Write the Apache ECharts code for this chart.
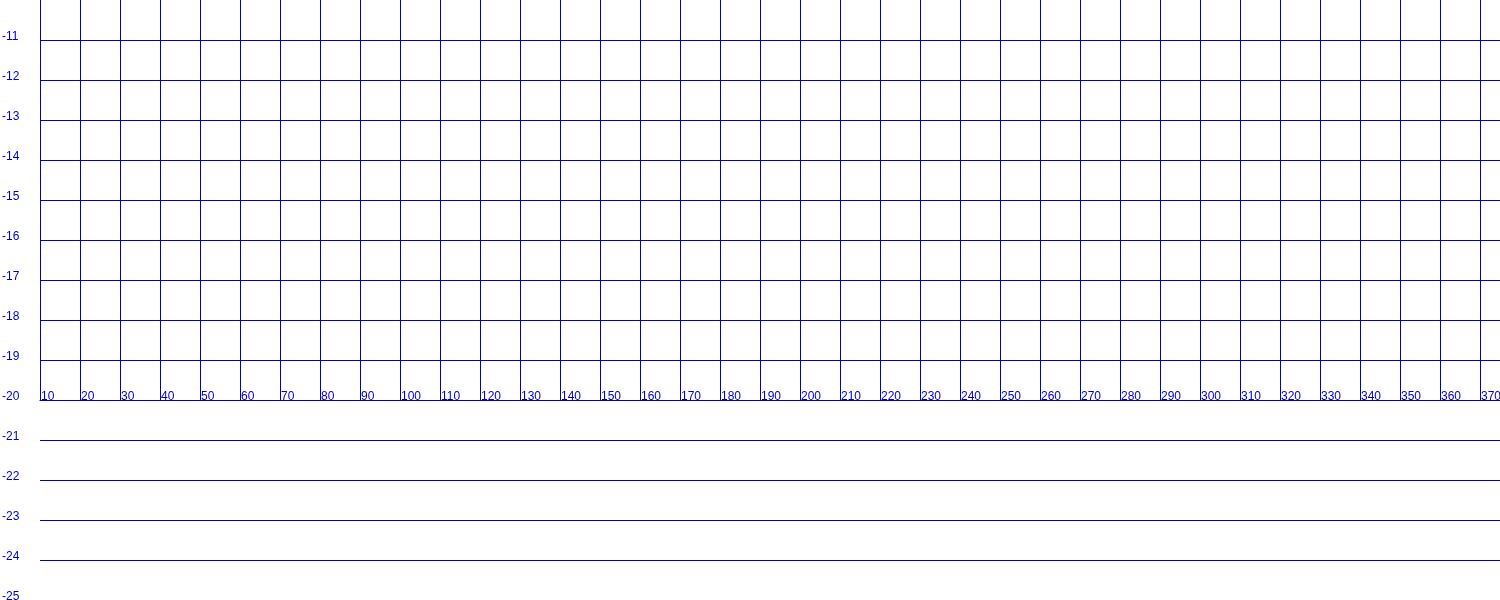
<!DOCTYPE html>
<html>
<head>
<meta charset="utf-8">
<script src="https://cdn.jsdelivr.net/npm/echarts@6/dist/echarts.min.js"></script>
<style>
html,body{margin:0;padding:0;background:#fff;}
#chart{width:1500px;height:600px;}
</style>
</head>
<body>
<div id="chart"></div>
<script>
// Axis ranges and tick labels
var xMin = 10, xMax = 375, xStep = 10;
var yMin = -25, yMax = -10, yStep = 1;
var yGridTop = -20; // vertical grid lines only above this value
var xTickLabels = [10,20,30,40,50,60,70,80,90,100,110,120,130,140,150,160,170,180,190,200,210,220,230,240,250,260,270,280,290,300,310,320,330,340,350,360,370];
var yTickLabels = [-11,-12,-13,-14,-15,-16,-17,-18,-19,-20,-21,-22,-23,-24,-25];

var BLUE = '#0000cc';
var FONT = '"Liberation Sans", Arial, sans-serif';

var chart = echarts.init(document.getElementById('chart'), null, {renderer: 'canvas'});
chart.setOption({
  animation: false,
  backgroundColor: '#ffffff',
  grid: [
    {left: 40, right: 0, top: 0, bottom: 0, containLabel: false, outerBoundsMode: 'none'},
    {left: 40, right: 0, top: 0, height: 400, containLabel: false, outerBoundsMode: 'none'}
  ],
  xAxis: [
    {gridIndex: 0, type: 'value', min: xMin, max: xMax, show: false},
    {
      gridIndex: 1, type: 'value', min: xMin, max: xMax, interval: xStep,
      axisLine: {show: true, onZero: false, lineStyle: {color: BLUE, width: 1}},
      axisTick: {show: false},
      splitLine: {show: true, showMaxLine: false, lineStyle: {color: BLUE, width: 1}},
      axisLabel: {
        inside: true, margin: 0, align: 'left', verticalAlign: 'bottom',
        lineHeight: 6, padding: [0, 0, 0, 1],
        color: BLUE, fontSize: 12, fontFamily: FONT,
        showMaxLabel: false,
        formatter: function (v) { return xTickLabels.indexOf(v) >= 0 ? String(v) : ''; }
      }
    }
  ],
  yAxis: [
    {
      gridIndex: 0, type: 'value', min: yMin, max: yMax, interval: yStep,
      axisLine: {show: false},
      axisTick: {show: false},
      splitLine: {show: true, showMinLine: false, showMaxLine: false, lineStyle: {color: BLUE, width: 1}},
      axisLabel: {
        margin: 38, align: 'left', verticalAlign: 'bottom', lineHeight: 6,
        color: BLUE, fontSize: 12, fontFamily: FONT,
        showMaxLabel: false, showMinLabel: true,
        formatter: function (v) { return yTickLabels.indexOf(v) >= 0 ? String(v) : ''; }
      }
    },
    {gridIndex: 1, type: 'value', min: yGridTop, max: yMax, show: false}
  ],
  series: [
    {type: 'line', xAxisIndex: 0, yAxisIndex: 0, data: [], silent: true},
    {type: 'line', xAxisIndex: 1, yAxisIndex: 1, data: [], silent: true}
  ]
});
</script>
</body>
</html>
